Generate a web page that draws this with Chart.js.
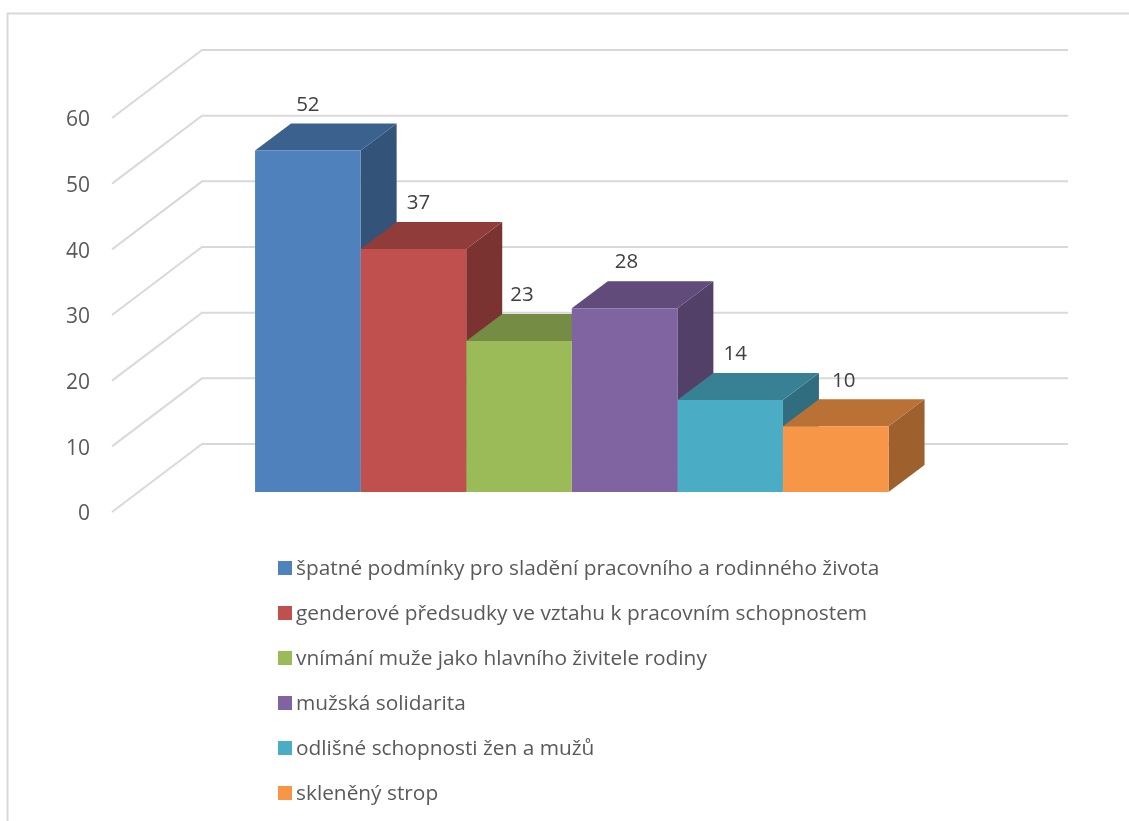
<!DOCTYPE html>
<html lang="cs">
<head>
<meta charset="utf-8">
<title>Překážky v kariéře žen</title>
<script src="https://cdn.jsdelivr.net/npm/chart.js@4/dist/chart.umd.min.js"></script>
<style>
  html, body { margin: 0; padding: 0; background: #fff; }
  canvas { display: block; }
</style>
</head>
<body>
<canvas id="chart" width="1129" height="821"></canvas>
<script>
// Values and labels
const categories = [''];
const seriesNames = [
  'špatné podmínky pro sladění pracovního a rodinného života',
  'genderové předsudky ve vztahu k pracovním schopnostem',
  'vnímání muže jako hlavního živitele rodiny',
  'mužská solidarita',
  'odlišné schopnosti žen a mužů',
  'skleněný strop'
];
const seriesValues = [52, 37, 23, 28, 14, 10];
const seriesColors = ['#4f81bd', '#c0504d', '#9bbb59', '#8064a2', '#4bacc6', '#f79646'];
const yTicks = { min: 0, max: 60, step: 10 };

// Small horizontal adjustments of the value labels
const labelNudgeX = [0, 5, 3, 2, 5, 8];

// Projection of the box drawing
const FLOOR_DX = 90, FLOOR_DY = -68;   // depth of the walls and floor
const BAR_DX = 36, BAR_DY = -27;       // depth of a bar
const FRONT_DX = 26.8, FRONT_DY = -20; // bar front plane relative to the floor's front edge
const GRID = '#d9d9d9';
const FONT = '"Open Sans", "Noto Sans", sans-serif';
const TICK_SIZE = 21, LEGEND_SIZE = 20.85, VALUE_SIZE = 20.5;

function shade(hex, k) {
  const n = parseInt(hex.slice(1), 16);
  const c = [n >> 16, (n >> 8) & 255, n & 255].map(v => Math.round(v * k));
  return `rgb(${c[0]},${c[1]},${c[2]})`;
}

function poly(ctx, pts, fill) {
  ctx.beginPath();
  pts.forEach((p, i) => (i ? ctx.lineTo(p[0], p[1]) : ctx.moveTo(p[0], p[1])));
  ctx.closePath();
  ctx.fillStyle = fill;
  ctx.fill();
}

const boxPlugin = {
  id: 'box',
  beforeDatasetsDraw(chart) {
    const { ctx, scales: { y }, chartArea: area } = chart;
    ctx.save();

    // Outer frame, open on the right and at the bottom
    ctx.strokeStyle = GRID;
    ctx.lineWidth = 2;
    ctx.beginPath();
    ctx.moveTo(7.5, chart.height);
    ctx.lineTo(7.5, 13.5);
    ctx.lineTo(chart.width, 13.5);
    ctx.stroke();

    // Gridlines running over the floor side and along the back wall
    for (let v = yTicks.min; v <= yTicks.max; v += yTicks.step) {
      const py = y.getPixelForValue(v);
      ctx.beginPath();
      ctx.moveTo(area.left, py);
      ctx.lineTo(area.left + FLOOR_DX, py + FLOOR_DY);
      ctx.lineTo(area.right + FLOOR_DX, py + FLOOR_DY);
      ctx.stroke();
    }

    // Top and side faces, painted left to right so neighbours overlap correctly
    chart.data.datasets.forEach((ds, i) => {
      const bar = chart.getDatasetMeta(i).data[0];
      const l = bar.x - bar.width / 2 + FRONT_DX;
      const r = bar.x + bar.width / 2 + FRONT_DX;
      const t = bar.y + FRONT_DY;
      const b = bar.base + FRONT_DY;
      poly(ctx, [[r, t], [r + BAR_DX, t + BAR_DY], [r + BAR_DX, b + BAR_DY], [r, b]], shade(ds.backgroundColor, 0.64));
      poly(ctx, [[l, t], [r, t], [r + BAR_DX, t + BAR_DY], [l + BAR_DX, t + BAR_DY]], shade(ds.backgroundColor, 0.75));
    });
    ctx.restore();

    // The library's own bars become the front faces
    ctx.save();
    ctx.translate(FRONT_DX, FRONT_DY);
  },
  afterDatasetsDraw(chart) {
    const { ctx } = chart;
    ctx.restore();
    ctx.save();

    // Value labels above each bar
    ctx.fillStyle = '#404040';
    ctx.font = `${VALUE_SIZE}px ${FONT}`;
    ctx.textAlign = 'center';
    ctx.textBaseline = 'middle';
    chart.data.datasets.forEach((ds, i) => {
      const bar = chart.getDatasetMeta(i).data[0];
      ctx.fillText(String(ds.data[0]), bar.x + FRONT_DX + labelNudgeX[i], bar.y + FRONT_DY - 45.5);
    });

    // One-column legend below the plot
    ctx.font = `${LEGEND_SIZE}px ${FONT}`;
    ctx.textAlign = 'left';
    chart.data.datasets.forEach((ds, i) => {
      const cy = 568 + i * 45;
      ctx.fillStyle = ds.backgroundColor;
      ctx.fillRect(278, cy - 7, 14, 14);
      ctx.fillStyle = '#595959';
      ctx.fillText(ds.label, 296, cy + 1.5);
    });
    ctx.restore();
  }
};

new Chart(document.getElementById('chart'), {
  type: 'bar',
  data: {
    labels: categories,
    datasets: seriesNames.map((name, i) => ({
      label: name,
      data: [seriesValues[i]],
      backgroundColor: seriesColors[i],
      borderWidth: 0,
      clip: false,
      barPercentage: 1,
      categoryPercentage: 0.7315
    }))
  },
  options: {
    responsive: false,
    animation: false,
    layout: { padding: { left: 52, top: 118, right: 151, bottom: 309 } },
    plugins: { legend: { display: false }, tooltip: { enabled: false } },
    scales: {
      x: { display: false },
      y: {
        min: yTicks.min,
        max: yTicks.max,
        afterFit(scale) { scale.width = 60; },
        grid: { display: false, drawTicks: false },
        border: { display: false },
        ticks: {
          stepSize: yTicks.step,
          padding: 22,
          labelOffset: 2.5,
          color: '#595959',
          font: { family: FONT, size: TICK_SIZE }
        }
      }
    }
  },
  plugins: [boxPlugin]
});
</script>
</body>
</html>
